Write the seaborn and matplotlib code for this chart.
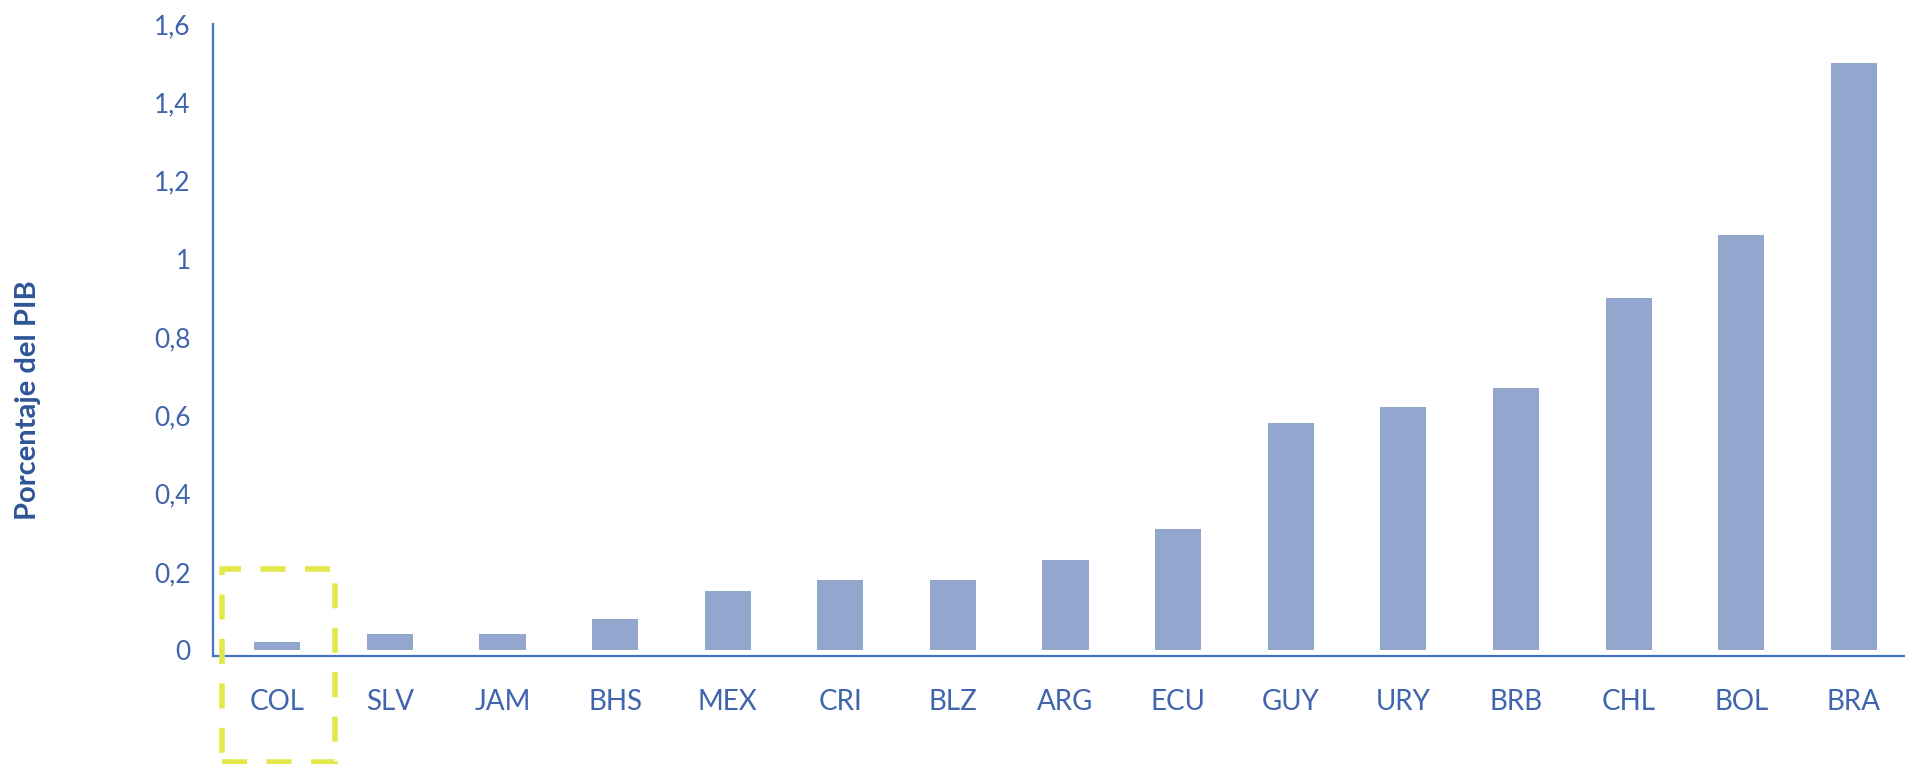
import matplotlib
matplotlib.use("Agg")
import matplotlib.pyplot as plt
import seaborn as sns
import pandas as pd
from matplotlib.patches import Rectangle

# values
countries = ["COL", "SLV", "JAM", "BHS", "MEX", "CRI", "BLZ", "ARG",
             "ECU", "GUY", "URY", "BRB", "CHL", "BOL", "BRA"]
pct_pib = [0.02, 0.04, 0.04, 0.08, 0.15, 0.18, 0.18, 0.23,
           0.31, 0.58, 0.62, 0.67, 0.90, 1.06, 1.50]
y_ticks = [0, 0.2, 0.4, 0.6, 0.8, 1.0, 1.2, 1.4, 1.6]
y_tick_labels = ["0", "0,2", "0,4", "0,6", "0,8", "1", "1,2", "1,4", "1,6"]

bar_color = "#92A6CE"
axis_color = "#4472C4"
text_color = "#4064AE"

sns.set_style("white")
plt.rcParams["font.family"] = ["Lato", "DejaVu Sans"]

df = pd.DataFrame({"pais": countries, "valor": pct_pib})

fig = plt.figure(figsize=(19.06, 7.64), dpi=100)
ax = fig.add_axes([0.1118, 0.1414, 0.8945, 0.8272])

sns.barplot(data=df, x="pais", y="valor", color=bar_color, saturation=1,
            width=0.41, linewidth=0, ax=ax)

ax.set_xlim(-0.57, 14.57)
ax.set_ylim(-0.015, 1.6)
ax.set_yticks(y_ticks)
ax.set_yticklabels(y_tick_labels)
ax.tick_params(axis="x", length=0, labelsize=20, labelcolor=text_color, pad=24)
ax.tick_params(axis="y", length=0, labelsize=19, labelcolor=text_color, pad=16)

ax.set_xlabel("")
ax.set_ylabel("Porcentaje del PIB", fontsize=21, fontweight="bold",
              color="#2F5597")
ax.yaxis.set_label_coords(-0.101, 0.405)

for s in ["top", "right"]:
    ax.spines[s].set_visible(False)
for s in ["left", "bottom"]:
    ax.spines[s].set_color(axis_color)
    ax.spines[s].set_linewidth(1.6)

# highlight box around COL
box = Rectangle((-0.49, -0.286), 1.0, 0.493, fill=False,
                edgecolor="#E2E84A", linewidth=4, linestyle=(0, (4.5, 3.5)),
                clip_on=False, zorder=5)
ax.add_patch(box)

fig.savefig("out.png", dpi=100)
